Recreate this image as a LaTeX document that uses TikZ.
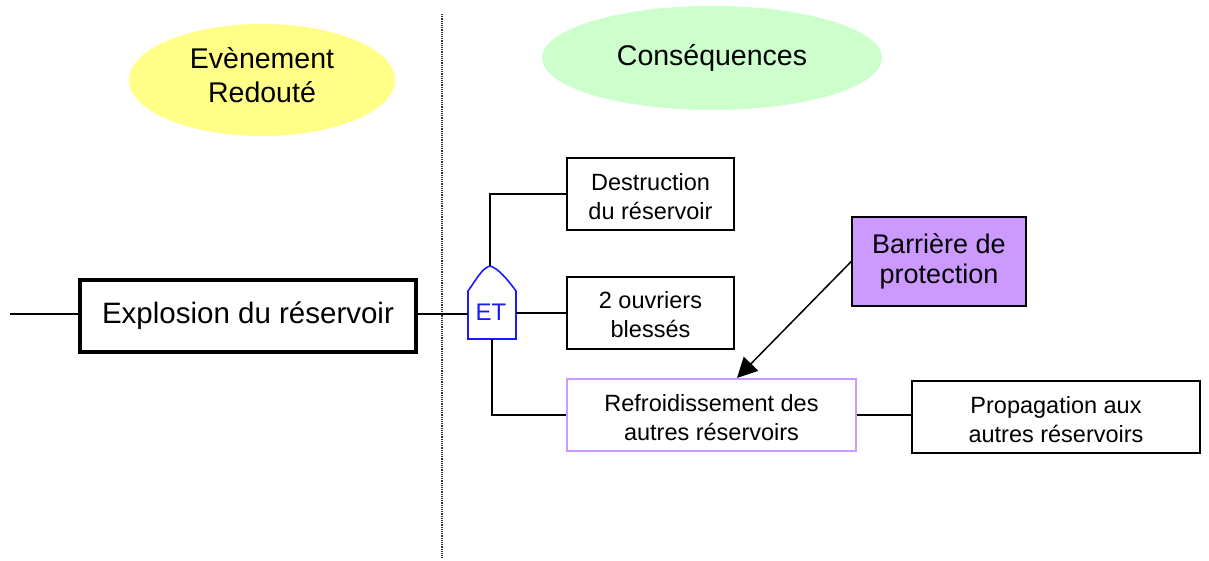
\documentclass[tikz,border=0pt]{standalone}
\usepackage{fontspec}
\setmainfont{Liberation Sans}
\usetikzlibrary{shapes.geometric,arrows.meta}
\definecolor{yellowbg}{HTML}{FFFF88}
\definecolor{greenbg}{HTML}{CCFFCC}
\definecolor{lilac}{HTML}{CC99FF}
\definecolor{gateblue}{HTML}{1A1AFF}
\begin{document}
\begin{tikzpicture}[x=1pt,y=-1pt,
  bigtxt/.style={font=\fontsize{28.5}{34}\selectfont},
  smalltxt/.style={font=\fontsize{23.5}{29}\selectfont},
  header/.style={ellipse,inner sep=0pt,bigtxt,align=center},
  evbox/.style={rectangle,draw,line width=1.5pt,inner sep=0pt,align=center,smalltxt},
  wire/.style={line width=1.5pt}]
\useasboundingbox (0,0) rectangle (1209,561);

% column headers
\node[header,fill=yellowbg,minimum width=266,minimum height=112] (hdrev) at (262,80) {};
\node[bigtxt,align=center,inner sep=0pt] (hdrevtxt) at (262,75) {Evènement\\Redouté};
\node[header,fill=greenbg,minimum width=340,minimum height=104] (hdrcons) at (712,58) {Conséquences};
\draw[densely dotted,line width=1.2pt,black!80] (442,14) -- (442,558);

% feared event
\node[rectangle,draw,line width=3.5pt,minimum width=336,minimum height=72,inner sep=0pt,font=\fontsize{29.5}{34}\selectfont] (expl) at (248,316) {\raisebox{3pt}{Explosion du réservoir}};
\coordinate (start) at (10,314);

% AND gate
\draw[gateblue,line width=1.6pt] (468,339) -- (468,291) .. controls (476,280) and (482,268) .. (490,266)
  .. controls (498,268) and (508,280) .. (516,291) -- (516,339) -- cycle;
\node[text=gateblue,font=\fontsize{24}{28}\selectfont,inner sep=0pt] (et) at (491,312) {ET};
\coordinate (etw) at (468,314);
\coordinate (ete) at (516,313);
\coordinate (ettop) at (490,266);
\coordinate (etbot) at (492,339);

% consequences
\node[evbox,minimum width=167,minimum height=72] (destr) at (650.5,194) {};
\node[smalltxt,align=center,inner sep=0pt] at (650.5,197) {Destruction\\du réservoir};
\node[evbox,minimum width=167,minimum height=72] (ouvr) at (650.5,313) {};
\node[smalltxt,align=center,inner sep=0pt] at (650.5,315) {2 ouvriers\\blessés};
\node[evbox,draw=lilac,minimum width=289,minimum height=72] (refr) at (711.5,415) {};
\node[smalltxt,align=center,inner sep=0pt] at (711.5,418) {Refroidissement des\\autres réservoirs};
\node[evbox,minimum width=288,minimum height=72] (prop) at (1056,417) {};
\node[smalltxt,align=center,inner sep=0pt] at (1056,420) {Propagation aux\\autres réservoirs};
\node[rectangle,draw,line width=1.5pt,fill=lilac,minimum width=174,minimum height=89,inner sep=0pt,align=center,font=\fontsize{27}{30}\selectfont] (barr) at (939,261.5) {Barrière de\\protection};
\coordinate (tip) at (737,378);

% connectors
\draw[wire] (start) -- (expl.west |- start);
\draw[wire] (expl.east |- etw) -- (etw);
\draw[wire] (ettop) |- (destr.west);
\draw[wire] (ete) -- (ouvr.west |- ete);
\draw[wire] (etbot) |- (refr.west);
\draw[wire] (refr.east) -- (prop.west |- refr.east);
\draw[line width=1.5pt,-{Triangle[length=20pt,width=20pt]}] (barr.west) -- (tip);
\end{tikzpicture}
\end{document}
